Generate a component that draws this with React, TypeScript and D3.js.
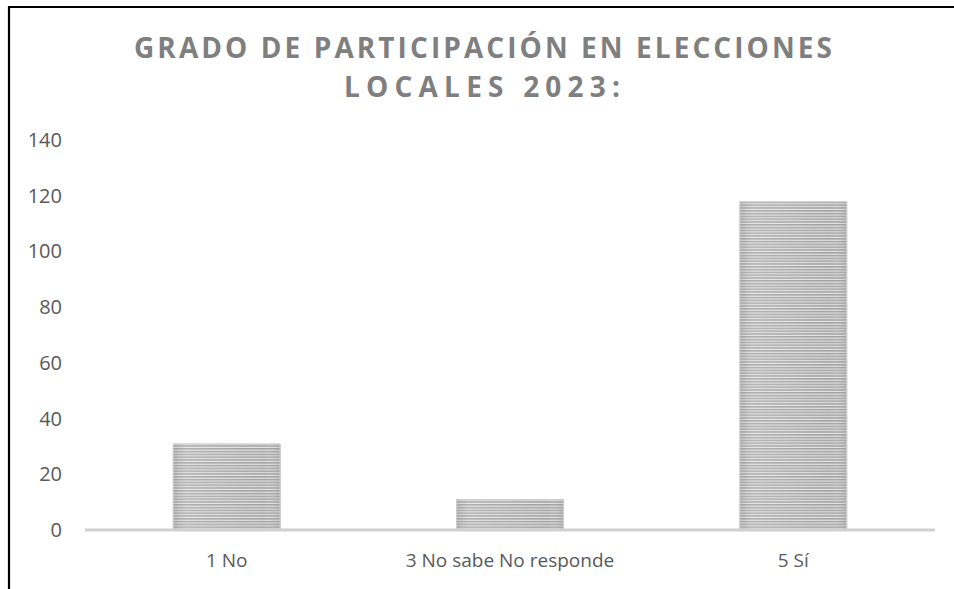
import React, { useEffect, useRef } from "react";
import * as d3 from "d3";

// values
const categories = ["1 No", "3 No sabe No responde", "5 Sí"];
const counts = [31, 11, 118];
const yTicks = [0, 20, 40, 60, 80, 100, 120, 140];
const titleLines = ["GRADO DE PARTICIPACIÓN EN ELECCIONES", "LOCALES 2023:"];

const W = 954;
const H = 589;

const App = () => {
  const svgRef = useRef<SVGSVGElement | null>(null);

  useEffect(() => {
    const svg = d3.select(svgRef.current);
    svg.selectAll("*").remove();

    const left = 85;
    const right = 935;
    const top = 140;
    const bottom = 530;

    const x = d3
      .scaleBand()
      .domain(categories)
      .range([left, right])
      .paddingInner(0.62)
      .paddingOuter(0.31);

    const y = d3.scaleLinear().domain([0, 140]).range([bottom, top]);

    const defs = svg.append("defs");

    // horizontal stripe fill like the Excel pattern
    const pat = defs
      .append("pattern")
      .attr("id", "stripes")
      .attr("patternUnits", "userSpaceOnUse")
      .attr("width", 8)
      .attr("height", 2.8);
    pat.append("rect").attr("width", 8).attr("height", 2.8).attr("fill", "#e4e4e4");
    pat.append("rect").attr("width", 8).attr("height", 1.6).attr("fill", "#a2a2a2");

    // soft shading across each bar
    const grad = defs
      .append("linearGradient")
      .attr("id", "shade")
      .attr("x1", "0%")
      .attr("x2", "100%");
    grad.append("stop").attr("offset", "0%").attr("stop-color", "#888").attr("stop-opacity", 0.25);
    grad.append("stop").attr("offset", "12%").attr("stop-color", "#fff").attr("stop-opacity", 0.15);
    grad.append("stop").attr("offset", "85%").attr("stop-color", "#fff").attr("stop-opacity", 0);
    grad.append("stop").attr("offset", "100%").attr("stop-color", "#888").attr("stop-opacity", 0.25);

    // chart frame (only top and left edges visible)
    svg
      .append("path")
      .attr("d", `M9,${H} V7 H${W}`)
      .attr("fill", "none")
      .attr("stroke", "#000")
      .attr("stroke-width", 2.2);

    // title
    const title = svg
      .append("text")
      .attr("text-anchor", "middle")
      .attr("font-family", "'Open Sans', sans-serif")
      .attr("font-weight", "bold")
      .attr("font-size", 28)
      .attr("fill", "#7f7f7f");
    title
      .append("tspan")
      .attr("x", 483)
      .attr("y", 58)
      .attr("textLength", 698)
      .attr("lengthAdjust", "spacing")
      .text(titleLines[0]);
    title
      .append("tspan")
      .attr("x", 482)
      .attr("y", 97)
      .attr("textLength", 276)
      .attr("lengthAdjust", "spacing")
      .text(titleLines[1]);

    // y tick labels
    svg
      .append("g")
      .selectAll("text")
      .data(yTicks)
      .join("text")
      .attr("x", 62)
      .attr("y", (d) => y(d))
      .attr("dy", "0.35em")
      .attr("text-anchor", "end")
      .attr("font-family", "'Open Sans', sans-serif")
      .attr("font-size", 20)
      .attr("fill", "#595959")
      .text((d) => d);

    // bars
    const bars = svg.append("g");
    categories.forEach((c, i) => {
      const bx = x(c) as number;
      const by = y(counts[i]);
      const bh = bottom - by;
      bars
        .append("rect")
        .attr("x", bx)
        .attr("y", by)
        .attr("width", x.bandwidth())
        .attr("height", bh)
        .attr("fill", "url(#stripes)");
      bars
        .append("rect")
        .attr("x", bx)
        .attr("y", by)
        .attr("width", x.bandwidth())
        .attr("height", bh)
        .attr("fill", "url(#shade)");
      bars
        .append("rect")
        .attr("x", bx + 0.5)
        .attr("y", by + 0.5)
        .attr("width", x.bandwidth() - 1)
        .attr("height", bh - 1)
        .attr("fill", "none")
        .attr("stroke", "#d0d0d0")
        .attr("stroke-width", 1);
    });

    // category axis line
    svg
      .append("line")
      .attr("x1", left)
      .attr("x2", right)
      .attr("y1", bottom)
      .attr("y2", bottom)
      .attr("stroke", "#d0d0d0")
      .attr("stroke-width", 3);

    // x labels
    svg
      .append("g")
      .selectAll("text")
      .data(categories)
      .join("text")
      .attr("x", (d) => (x(d) as number) + x.bandwidth() / 2)
      .attr("y", 567)
      .attr("text-anchor", "middle")
      .attr("font-family", "'Open Sans', sans-serif")
      .attr("font-size", 19)
      .attr("fill", "#595959")
      .text((d) => d);
  }, []);

  return (
    <svg
      ref={svgRef}
      width={W}
      height={H}
      style={{ position: "absolute", left: 0, top: 0, background: "#fff" }}
    />
  );
};

export default App;
